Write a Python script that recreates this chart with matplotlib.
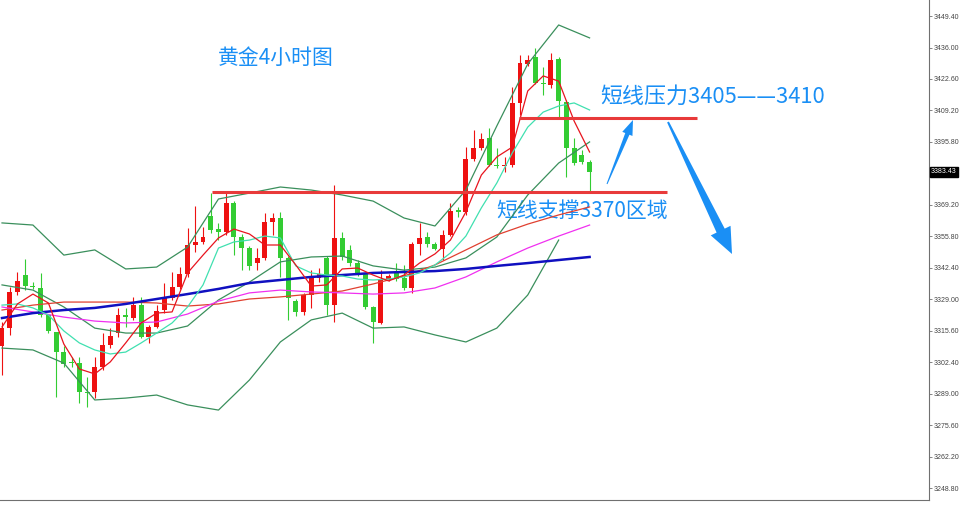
import numpy as np
import matplotlib
matplotlib.use('Agg')
import matplotlib.pyplot as plt
from matplotlib.patches import Polygon

plt.rcParams['font.family'] = ['Noto Sans CJK SC', 'DejaVu Sans']

# 4小时K线 (开, 高, 低, 收)
opens  = [3309.3, 3316.9, 3332.3, 3339.5, 3334.8, 3334.0, 3322.5, 3315.2, 3306.7, 3302.5,
          3302.0, 3289.7, 3289.7, 3300.3, 3309.7, 3314.8, 3322.5, 3321.2, 3326.7, 3313.1,
          3317.4, 3324.6, 3329.7, 3334.4, 3339.9, 3352.3, 3353.6, 3364.6, 3359.1, 3357.8,
          3370.2, 3355.7, 3351.0, 3344.6, 3346.8, 3362.1, 3363.8, 3346.8, 3328.4, 3323.8,
          3331.0, 3338.2, 3346.8, 3326.7, 3355.3, 3350.2, 3344.6, 3339.9, 3325.9, 3319.1,
          3337.8, 3340.8, 3338.2, 3334.0, 3352.7, 3355.7, 3352.7, 3350.6, 3356.6, 3367.2,
          3366.4, 3388.9, 3393.6, 3397.9, 3386.4, 3385.9, 3386.4, 3412.8, 3429.4, 3432.4,
          3421.3, 3420.4, 3431.5, 3413.2, 3393.6, 3390.6, 3387.6]
highs  = [3319.5, 3334.4, 3340.8, 3346.3, 3336.5, 3340.4, 3322.5, 3315.2, 3309.3, 3304.6,
          3304.6, 3296.1, 3304.6, 3314.8, 3316.9, 3325.5, 3325.5, 3330.2, 3330.2, 3318.2,
          3326.7, 3336.1, 3340.8, 3342.9, 3359.5, 3368.9, 3360.0, 3374.4, 3361.7, 3374.4,
          3371.0, 3357.0, 3352.0, 3351.0, 3365.9, 3365.9, 3366.4, 3347.5, 3329.5, 3332.0,
          3341.6, 3342.5, 3347.5, 3377.9, 3357.8, 3352.3, 3346.0, 3340.5, 3326.5, 3341.6,
          3340.0, 3344.6, 3343.8, 3353.5, 3361.7, 3357.8, 3353.5, 3358.7, 3370.2, 3368.5,
          3394.0, 3401.3, 3400.0, 3402.1, 3393.6, 3389.8, 3419.6, 3433.2, 3433.2, 3436.2,
          3428.1, 3434.1, 3432.5, 3414.0, 3397.9, 3392.8, 3388.3]
lows   = [3296.9, 3314.0, 3331.0, 3333.1, 3333.6, 3321.6, 3314.8, 3287.6, 3300.3, 3300.3,
          3285.0, 3283.3, 3287.1, 3299.0, 3308.4, 3313.1, 3317.4, 3320.4, 3312.7, 3310.6,
          3316.9, 3323.3, 3329.0, 3333.6, 3338.8, 3349.3, 3352.7, 3357.4, 3354.4, 3356.6,
          3348.0, 3341.6, 3341.6, 3341.6, 3345.9, 3356.6, 3338.7, 3320.4, 3322.0, 3322.5,
          3325.5, 3336.5, 3322.5, 3319.5, 3346.0, 3343.5, 3339.0, 3325.0, 3310.6, 3318.5,
          3337.0, 3337.0, 3333.0, 3331.9, 3348.0, 3351.4, 3350.0, 3345.9, 3356.0, 3364.2,
          3365.0, 3388.0, 3392.8, 3385.9, 3385.0, 3383.4, 3385.5, 3407.7, 3428.5, 3420.8,
          3416.2, 3419.2, 3406.8, 3381.3, 3386.5, 3386.8, 3374.9]
closes = [3316.9, 3332.3, 3337.0, 3334.8, 3334.4, 3322.5, 3315.7, 3306.7, 3301.6, 3302.0,
          3289.7, 3289.3, 3300.3, 3309.7, 3313.5, 3322.5, 3321.6, 3326.7, 3313.1, 3317.4,
          3324.2, 3329.7, 3334.4, 3339.9, 3352.3, 3353.6, 3355.7, 3358.7, 3357.8, 3370.2,
          3355.7, 3351.0, 3343.4, 3346.8, 3362.1, 3363.8, 3346.8, 3329.7, 3323.8, 3331.0,
          3338.2, 3339.9, 3326.7, 3355.3, 3347.2, 3344.6, 3339.9, 3325.9, 3319.5, 3337.4,
          3339.1, 3337.8, 3334.0, 3352.7, 3355.3, 3352.7, 3350.6, 3356.6, 3366.8, 3366.4,
          3388.9, 3393.6, 3397.4, 3386.4, 3385.9, 3386.4, 3412.8, 3429.8, 3431.1, 3421.3,
          3420.9, 3431.1, 3413.6, 3393.6, 3387.2, 3387.6, 3383.4]

# 均线 / 布林带 (按K线序号取点)
idx2 = list(range(0, 77, 2))
idx4 = list(range(0, 77, 4))
ma5 = [3317.4, 3327.2, 3331.4, 3327.6, 3310.1, 3299.5, 3297.4, 3302.5, 3310.6, 3319.1,
       3323.3, 3323.8, 3340.4, 3348.0, 3355.3, 3359.1, 3357.0, 3352.3, 3352.3, 3343.8,
       3334.8, 3335.3, 3342.1, 3342.5, 3339.5, 3337.0, 3339.5, 3344.6, 3348.5, 3354.4,
       3366.4, 3382.1, 3389.8, 3394.0, 3417.9, 3424.3, 3422.1, 3405.1, 3391.9]
ma10 = [3326.7, 3327.2, 3325.5, 3322.5, 3315.7, 3310.6, 3307.6, 3305.9, 3306.7, 3310.6,
        3314.8, 3319.1, 3325.9, 3335.3, 3351.0, 3353.6, 3354.4, 3356.1, 3355.3, 3343.4,
        3340.4, 3339.5, 3339.1, 3337.8, 3337.4, 3337.8, 3338.7, 3340.4, 3343.8, 3348.9,
        3356.1, 3368.1, 3378.7, 3391.5, 3402.5, 3408.9, 3411.5, 3412.8, 3409.8]
boll_up  = [3361.7, 3360.8, 3348.0, 3350.2, 3342.1, 3342.9, 3351.4, 3371.9, 3374.4, 3377.0,
            3375.7, 3373.6, 3371.0, 3363.8, 3360.4, 3375.7, 3403.0, 3429.4, 3446.0, 3440.5]
boll_mid = [3335.3, 3333.1, 3325.9, 3316.9, 3314.8, 3314.8, 3317.8, 3328.9, 3336.5, 3345.1,
            3347.2, 3347.6, 3343.4, 3341.6, 3342.9, 3346.8, 3355.7, 3373.6, 3387.2, 3396.2]
boll_dn  = [3308.4, 3307.6, 3302.0, 3286.3, 3287.1, 3288.4, 3284.2, 3282.0, 3294.8, 3311.0,
            3320.4, 3323.3, 3316.9, 3317.4, 3314.0, 3311.0, 3316.9, 3331.0, 3354.4]
ma30 = [3324.6, 3326.7, 3328.0, 3328.0, 3328.0, 3327.6, 3326.3, 3327.2, 3329.3, 3330.2,
        3331.4, 3332.7, 3335.7, 3339.1, 3343.8, 3350.2, 3356.6, 3361.2, 3365.1, 3368.5]
ma60 = [3325.9, 3323.8, 3321.6, 3319.9, 3319.1, 3319.5, 3322.9, 3328.4, 3331.9, 3333.1,
        3332.3, 3331.9, 3331.4, 3331.9, 3334.0, 3338.7, 3345.1, 3351.0, 3356.1, 3360.8]
ma120 = [3321.2, 3323.3, 3324.6, 3325.5, 3327.2, 3329.3, 3331.4, 3333.6, 3336.1, 3337.4,
         3338.7, 3339.5, 3340.4, 3340.8, 3341.2, 3342.1, 3343.4, 3344.6, 3345.9, 3347.2]

resist_level = 3406.4
support_level = 3374.9
last_price = 3383.43

yticks = [3248.8 + 13.4 * k for k in range(16)]
ytick_labels = ['3248.80', '3262.20', '3275.60', '3289.00', '3302.40', '3315.60', '3329.00',
                '3342.40', '3355.80', '3369.20', '', '3395.80', '3409.20', '3422.60',
                '3436.00', '3449.40']

W, H = 960, 505
fig = plt.figure(figsize=(W / 100, H / 100), dpi=100)
ax = fig.add_axes([0, 5 / H, 929 / W, 500 / H])

red = '#ee1111'
green = '#33cc33'
n = len(opens)
x = np.arange(n)
o = np.array(opens); c = np.array(closes)
cols = [red if c[i] >= o[i] else green for i in range(n)]
ax.vlines(x, lows, highs, colors=cols, lw=0.8, zorder=2)
body = np.maximum(np.abs(c - o), 0.5)
ax.bar(x, body, bottom=np.minimum(o, c), width=0.64, color=cols, zorder=3)

# 指标线
ax.plot(idx4, boll_up, color='#3a8f5c', lw=0.9, zorder=4)
ax.plot(idx4, boll_mid, color='#3a8f5c', lw=0.9, zorder=4)
ax.plot(idx4[:len(boll_dn)], boll_dn, color='#3a8f5c', lw=0.9, zorder=4)
ax.plot(idx4, ma30, color='#e04030', lw=0.9, zorder=4)
ax.plot(idx4, ma60, color='#f030f0', lw=0.9, zorder=4)
ax.plot(idx4, ma120, color='#1010c0', lw=1.8, zorder=4)
ax.plot(idx2, ma10, color='#40e0b0', lw=0.9, zorder=5)
ax.plot(idx2, ma5, color='#e8141e', lw=0.9, zorder=5)

# 压力/支撑线
ax.hlines(resist_level, 66.9, 89.9, color='#e83a3a', lw=2.2, zorder=6)
ax.hlines(support_level, 27.2, 86.0, color='#e83a3a', lw=2.2, zorder=6)

ax.set_xlim(-0.26, 119.9)
ax.set_ylim(3243.7, 3456.64)

for s in ['top', 'left']:
    ax.spines[s].set_visible(False)
for s in ['right', 'bottom']:
    ax.spines[s].set_color('#707070')
    ax.spines[s].set_linewidth(0.8)
ax.set_xticks([])
ax.yaxis.tick_right()
ax.set_yticks(yticks)
ax.set_yticklabels(ytick_labels, family='Liberation Sans')
ax.tick_params(axis='y', length=2.5, width=0.6, color='#707070', labelsize=5,
               labelcolor='#444444', pad=1.2)

# 最新价
ax.text(1.0022, last_price, '%.2f' % last_price, transform=ax.get_yaxis_transform(),
        ha='left', va='center', fontsize=5, color='white', family='Liberation Sans',
        bbox=dict(boxstyle='square,pad=0.2', fc='black', ec='black'))

blue = '#1a8ff5'
ax.text(218 / 929, 1 - 58 / 500, '黄金4小时图', transform=ax.transAxes,
        fontsize=15, color=blue, va='center', ha='left')
ax.text(600 / 929, 1 - 97 / 500, '短线压力3405——3410', transform=ax.transAxes,
        fontsize=15.8, color=blue, va='center', ha='left')
ax.text(496 / 929, 1 - 211 / 500, '短线支撑3370区域', transform=ax.transAxes,
        fontsize=15, color=blue, va='center', ha='left')


def taper_arrow(x0, y0, x1, y1, w0, w1, hw, hl, color):
    p0 = np.array([x0, y0], float)
    p1 = np.array([x1, y1], float)
    d = (p1 - p0) / np.hypot(*(p1 - p0))
    nrm = np.array([-d[1], d[0]])
    base = p1 - d * hl
    pts = [p0 + nrm * w0 / 2, base + nrm * w1 / 2, base + nrm * hw / 2, p1,
           base - nrm * hw / 2, base - nrm * w1 / 2, p0 - nrm * w0 / 2]
    pts = [(px / W, 1 - py / H) for px, py in pts]
    fig.patches.append(Polygon(pts, closed=True, fc=color, ec='none',
                               transform=fig.transFigure, zorder=10))


taper_arrow(607, 184, 633, 120, 1.0, 4.5, 11, 15, blue)
taper_arrow(668, 122, 732, 254, 2.0, 9.0, 22, 26, blue)

fig.savefig('out.png', dpi=100)
